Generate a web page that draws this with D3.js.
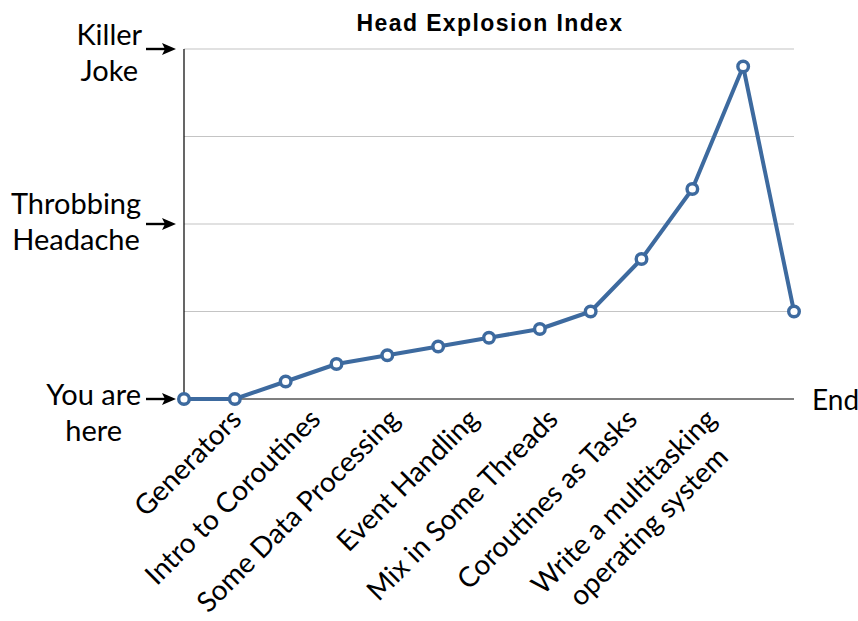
<!DOCTYPE html>
<html>
<head>
<meta charset="utf-8">
<script src="https://cdn.jsdelivr.net/npm/d3@7"></script>
<style>
  body { margin: 0; background: #fff; }
  text { font-family: "Lato", "Open Sans", sans-serif; fill: #000; }
  .title { font-family: "Liberation Sans", Arial, sans-serif; font-weight: bold; }
</style>
</head>
<body>
<div id="chart"></div>
<script>
// chart data
const stages = [
  'Generators',
  'Intro to Coroutines',
  'Some Data Processing',
  'Event Handling',
  'Mix in Some Threads',
  'Coroutines as Tasks',
  'Write a multitasking\noperating system'
];
const steps = [0, 1, 2, 3, 4, 5, 6, 7, 8, 9, 10, 11, 12];
const explosion = [0, 0, 0.2, 0.4, 0.5, 0.6, 0.7, 0.8, 1.0, 1.6, 2.4, 3.8, 1.0];
const gridValues = [0, 1, 2, 3, 4];
const levelValues = [4, 2, 0];
const levelLabels = ['Killer\nJoke', 'Throbbing\nHeadache', 'You are\nhere'];
const endLabel = 'End';
const title = 'Head Explosion Index';

const width = 858;
const height = 621;
const margin = { top: 49, right: 64, bottom: 222, left: 184 };
const blue = '#3d6a9f';

const svg = d3.select('#chart').append('svg')
  .attr('width', width)
  .attr('height', height);

const x = d3.scaleLinear()
  .domain(d3.extent(steps))
  .range([margin.left, width - margin.right]);

const y = d3.scaleLinear()
  .domain([0, 4])
  .range([height - margin.bottom, margin.top]);

// category labels sit on their own evenly spaced ticks
const xLab = d3.scalePoint()
  .domain(stages)
  .range([243, 718]);

// gridlines
svg.append('g')
  .attr('class', 'grid')
  .selectAll('line')
  .data(gridValues.filter(d => d > 0))
  .join('line')
  .attr('x1', x.range()[0])
  .attr('x2', x.range()[1])
  .attr('y1', d => y(d))
  .attr('y2', d => y(d))
  .attr('stroke', '#c4c4c4')
  .attr('stroke-width', 1.2);

// axes lines
svg.append('line')
  .attr('x1', x.range()[0]).attr('x2', x.range()[1])
  .attr('y1', y(0)).attr('y2', y(0))
  .attr('stroke', '#000').attr('stroke-width', 1.2);

svg.append('line')
  .attr('x1', x.range()[0]).attr('x2', x.range()[0])
  .attr('y1', y(4)).attr('y2', y(0))
  .attr('stroke', '#000').attr('stroke-width', 1.2);

// title
svg.append('text')
  .attr('class', 'title')
  .attr('x', (x.range()[0] + x.range()[1]) / 2 + 1)
  .attr('y', 31)
  .attr('text-anchor', 'middle')
  .style('font-size', '23px')
  .style('letter-spacing', '1.4px')
  .text(title);

// left level annotations with arrows
const blockShift = [-4, -10, 6];
const lineH = 36;
const levels = svg.append('g').attr('class', 'levels');

levelLabels.forEach((lbl, i) => {
  const ly = y(levelValues[i]);
  const t = levels.append('text')
    .attr('text-anchor', 'middle')
    .style('font-size', '29px');
  const lines = lbl.split('\n');
  const spans = lines.map((s, j) => t.append('tspan')
    .attr('dy', j === 0 ? 0 : lineH)
    .text(s));
  const maxW = d3.max(spans, s => s.node().getComputedTextLength());
  const cx = 141 - maxW / 2;
  spans.forEach(s => s.attr('x', cx));
  t.attr('y', ly + blockShift[i]);

  levels.append('line')
    .attr('x1', 146).attr('x2', 168)
    .attr('y1', ly).attr('y2', ly)
    .attr('stroke', '#000').attr('stroke-width', 2.4);
  levels.append('path')
    .attr('d', `M176,${ly} L162,${ly - 6} L165,${ly} L162,${ly + 6} Z`)
    .attr('fill', '#000');
});

// End label
svg.append('text')
  .attr('x', x.range()[1] + 18)
  .attr('y', y(0) + 11)
  .style('font-size', '28px')
  .text(endLabel);

// category labels rotated
const cats = svg.append('g').attr('class', 'cats');
stages.forEach(s => {
  const lines = s.split('\n');
  const t = cats.append('text')
    .attr('text-anchor', 'end')
    .attr('transform', `translate(${xLab(s)},${y(0) + 22}) rotate(-45)`)
    .style('font-size', '28px');
  const spans = lines.map((l, j) => t.append('tspan')
    .attr('x', 0)
    .attr('y', j * 35)
    .text(l));
  if (spans.length > 1) {
    const w0 = spans[0].node().getComputedTextLength();
    spans.forEach((sp, j) => {
      if (j > 0) {
        const w = sp.node().getComputedTextLength();
        sp.attr('x', -(w0 - w) / 2);
      }
    });
  }
});

// the line
const line = d3.line()
  .x((d, i) => x(steps[i]))
  .y(d => y(d));

svg.append('path')
  .datum(explosion)
  .attr('d', line)
  .attr('fill', 'none')
  .attr('stroke', blue)
  .attr('stroke-width', 4)
  .attr('stroke-linejoin', 'round');

svg.append('g')
  .attr('class', 'points')
  .selectAll('circle')
  .data(explosion)
  .join('circle')
  .attr('cx', (d, i) => x(steps[i]))
  .attr('cy', d => y(d))
  .attr('r', 5.3)
  .attr('fill', '#fff')
  .attr('stroke', blue)
  .attr('stroke-width', 3.4);
</script>
</body>
</html>
